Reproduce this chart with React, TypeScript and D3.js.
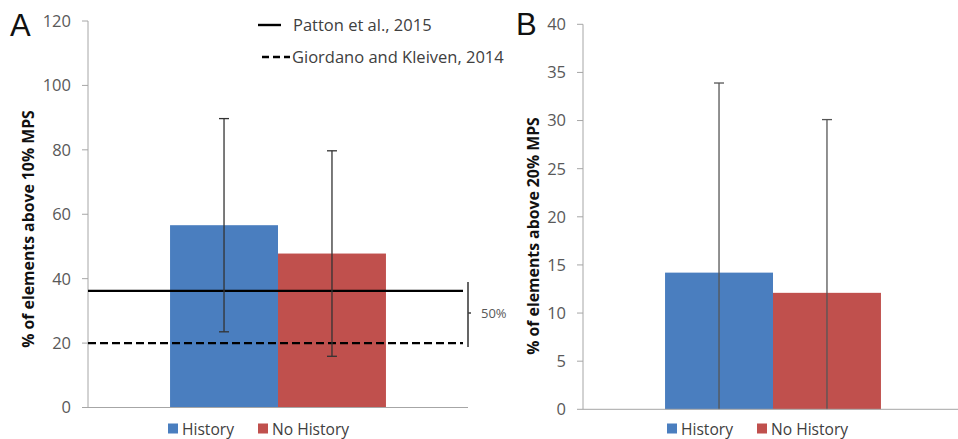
import React from 'react';
import * as d3 from 'd3';

const series = ['History', 'No History'];
const seriesColors = ['#4a7ebf', '#c0504d'];

// panel A: % of elements above 10% MPS
const meanA = [56.6, 47.8];
const errA = [33.1, 31.9];
const ticksA = [0, 20, 40, 60, 80, 100, 120];
// reference lines in panel A
const pattonValue = 36.2;
const giordanoValue = 20;

// panel B: % of elements above 20% MPS
const meanB = [14.2, 12.1];
const errB = [19.7, 18.0];
const ticksB = [0, 5, 10, 15, 20, 25, 30, 35, 40];

const font = '"Open Sans", "Liberation Sans", Arial, sans-serif';
const axisColor = '#a6a6a6';
const textColor = '#595959';

type PanelProps = {
  letter: string;
  letterX: number;
  letterY: number;
  title: string;
  titleX: number;
  titleY: number;
  left: number;
  right: number;
  top: number;
  bottom: number;
  ticks: number[];
  means: number[];
  errs: number[];
  errColor: string;
  legendX: number;
  children?: (y: d3.ScaleLinear<number, number>) => React.ReactNode;
};

function Panel(p: PanelProps) {
  const y = d3
    .scaleLinear()
    .domain([0, d3.max(p.ticks) as number])
    .range([p.bottom, p.top]);
  const x0 = d3
    .scaleBand<string>()
    .domain(['all'])
    .range([p.left, p.right])
    .paddingOuter(0.38)
    .paddingInner(0);
  const x1 = d3
    .scaleBand<string>()
    .domain(series)
    .range([0, x0.bandwidth()]);

  return (
    <g>
      <text x={p.letterX} y={p.letterY} fontSize={31} fontFamily="'Liberation Sans', Arial, sans-serif" fill="#111">
        {p.letter}
      </text>

      {/* y axis */}
      <line x1={p.left} x2={p.left} y1={p.top} y2={p.bottom} stroke={axisColor} />
      {p.ticks.map((t) => (
        <g key={t}>
          <line x1={p.left - 6} x2={p.left} y1={y(t)} y2={y(t)} stroke={axisColor} />
          <text
            x={p.left - 17}
            y={y(t)}
            dy="0.36em"
            textAnchor="end"
            fontSize={16.5}
            fontFamily={font}
            fill={textColor}
          >
            {t}
          </text>
        </g>
      ))}
      <text
        transform={`translate(${p.titleX},${p.titleY}) rotate(-90)`}
        textAnchor="middle"
        fontSize={15.8}
        fontWeight="bold"
        fontFamily={font}
        fill="#111"
      >
        {p.title}
      </text>

      {/* bars */}
      {series.map((s, i) => (
        <rect
          key={s}
          x={(x0('all') as number) + (x1(s) as number)}
          y={y(p.means[i])}
          width={x1.bandwidth()}
          height={y(0) - y(p.means[i])}
          fill={seriesColors[i]}
        />
      ))}

      {p.children && p.children(y)}

      {/* error bars */}
      {series.map((s, i) => {
        const cx = (x0('all') as number) + (x1(s) as number) + x1.bandwidth() / 2;
        const hi = p.means[i] + p.errs[i];
        const lo = Math.max(0, p.means[i] - p.errs[i]);
        return (
          <g key={s} stroke={p.errColor} strokeWidth={1.3}>
            <line x1={cx} x2={cx} y1={y(hi)} y2={y(lo)} />
            <line x1={cx - 5} x2={cx + 5} y1={y(hi)} y2={y(hi)} />
            {lo > 0 && <line x1={cx - 5} x2={cx + 5} y1={y(lo)} y2={y(lo)} />}
          </g>
        );
      })}

      {/* x axis */}
      <line x1={p.left} x2={p.right} y1={p.bottom} y2={p.bottom} stroke={axisColor} />

      {/* legend */}
      {series.map((s, i) => (
        <g key={s} transform={`translate(${p.legendX + i * 90},0)`}>
          <rect x={0} y={423.5} width={10} height={10} fill={seriesColors[i]} />
          <text x={14} y={434.5} fontSize={15.6} fontFamily={font} fill="#404040">
            {s}
          </text>
        </g>
      ))}
    </g>
  );
}

export default function App() {
  return (
    <svg
      width={958}
      height={439}
      style={{ position: 'absolute', left: 0, top: 0, background: '#fff' }}
    >
      <Panel
        letter="A"
        letterX={10}
        letterY={36}
        title="% of elements above 10% MPS"
        titleX={34}
        titleY={229}
        left={88}
        right={468}
        top={21}
        bottom={407.5}
        ticks={ticksA}
        means={meanA}
        errs={errA}
        errColor="#333"
        legendX={168}
      >
        {(y) => (
          <g>
            <line x1={88} x2={463} y1={y(pattonValue)} y2={y(pattonValue)} stroke="#000" strokeWidth={2.4} />
            <line
              x1={88}
              x2={463}
              y1={y(giordanoValue)}
              y2={y(giordanoValue)}
              stroke="#000"
              strokeWidth={2.4}
              strokeDasharray="8,4"
            />
            {/* bracket showing the 50% difference */}
            <path
              d={`M468,${y(pattonValue) - 9}V${y(giordanoValue) + 4}M468,${(y(pattonValue) + y(giordanoValue)) / 2 - 4}h3`}
              stroke="#404040"
              strokeWidth={1.6}
              fill="none"
            />
            <text x={481} y={(y(pattonValue) + y(giordanoValue)) / 2 - 4} dy="0.36em" fontSize={13} fontFamily={font} fill={textColor}>
              50%
            </text>
          </g>
        )}
      </Panel>
      <Panel
        letter="B"
        letterX={516}
        letterY={35}
        title="% of elements above 20% MPS"
        titleX={539}
        titleY={236}
        left={583}
        right={963}
        top={24.3}
        bottom={409.3}
        ticks={ticksB}
        means={meanB}
        errs={errB}
        errColor="#555"
        legendX={667}
      />

      {/* line legend, panel A */}
      <line x1={258} x2={281} y1={25} y2={25} stroke="#000" strokeWidth={2.4} />
      <text x={293} y={30.5} fontSize={16.5} fontFamily={font} fill="#404040">
        Patton et al., 2015
      </text>
      <line x1={262} x2={290} y1={57} y2={57} stroke="#000" strokeWidth={2.4} strokeDasharray="7,4" />
      <text x={292} y={62.5} fontSize={16.5} fontFamily={font} fill="#404040">
        Giordano and Kleiven, 2014
      </text>
    </svg>
  );
}
